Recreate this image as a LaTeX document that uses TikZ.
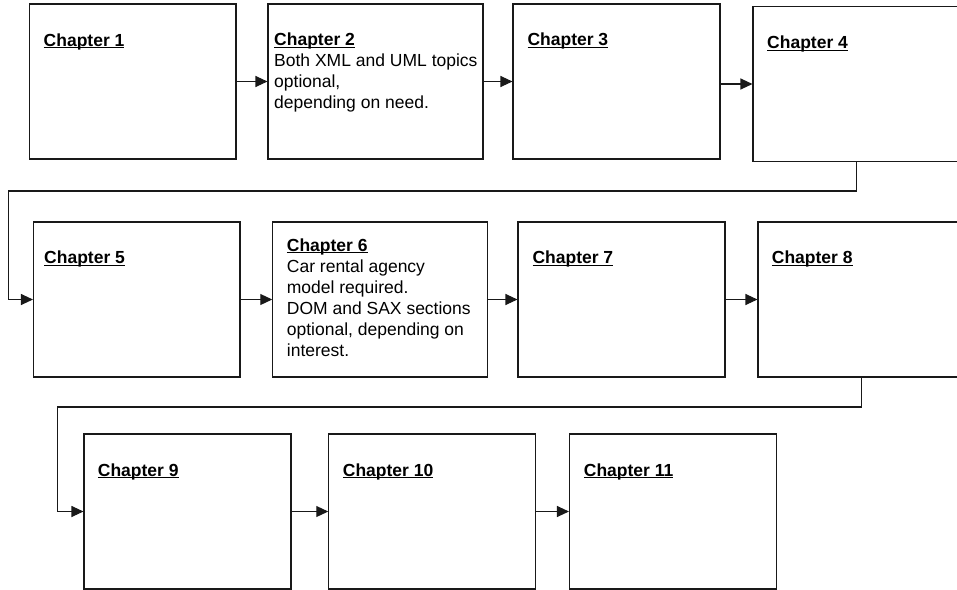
\documentclass[tikz,border=0pt]{standalone}
\usepackage{fontspec}
\setmainfont{Liberation Sans}
\usetikzlibrary{arrows.meta}

% bold title with a tight underline that cuts through the descenders
\newlength\chtitlewd
\newcommand\chtitle[1]{{\bfseries\settowidth\chtitlewd{#1}#1\llap{\rule[-2.4pt]{\chtitlewd}{1.3pt}}}}

\tikzset{
  chbox/.style={draw=black!90, line width=1.1pt, fill=white, rectangle,
    inner sep=0pt, minimum width=207pt, minimum height=155pt},
  wide/.style={minimum width=215pt},
  % multi-line texts are placed by the baseline of their last line
  chtext/.style={anchor=base west, inner sep=0pt, align=left,
    font=\fontsize{17.5}{21}\selectfont, text=black},
  flow/.style={draw=black!90, line width=1.1pt,
    -{Triangle[length=12pt,width=11pt]}},
}

\begin{document}
\begin{tikzpicture}[x=1pt,y=-1pt]
\useasboundingbox (0,0) rectangle (957,589);
\clip (0,0) rectangle (957,589);

% row 1
\node[chbox, minimum width=206.5pt] (b1) at (132.75,81.5) {};
\node[chbox, wide] (b2) at (375.5,81.5) {};
\node[chbox] (b3) at (616.5,81.5) {};
\node[chbox] (b4) at (856.5,84) {};
% row 2
\node[chbox, minimum width=206.5pt] (b5) at (136.75,299.5) {};
\node[chbox, wide] (b6) at (380.3,299.5) {};
\node[chbox] (b7) at (621.5,299.5) {};
\node[chbox] (b8) at (861.5,299.5) {};
% row 3
\node[chbox] (b9) at (187.5,511.5) {};
\node[chbox] (b10) at (432.3,511.5) {};
\node[chbox] (b11) at (673,511.5) {};

% chapter texts
\node[chtext] (t1) at (43.5,46) {\chtitle{Chapter 1}};
\node[chtext] (t2) at (274,108.5) {\chtitle{Chapter 2}\\Both XML and UML topics\\optional,\\depending on need.};
\node[chtext] (t3) at (527.3,45.7) {\chtitle{Chapter 3}};
\node[chtext] (t4) at (767,48.5) {\chtitle{Chapter 4}};
\node[chtext] (t5) at (44,263.5) {\chtitle{Chapter 5}};
\node[chtext] (t6) at (286.7,356) {\chtitle{Chapter 6}\\Car rental agency\\model required.\\DOM and SAX sections\\optional, depending on\\interest.};
\node[chtext] (t7) at (532.3,263.5) {\chtitle{Chapter 7}};
\node[chtext] (t8) at (771.7,263.5) {\chtitle{Chapter 8}};
\node[chtext] (t9) at (97.7,476) {\chtitle{Chapter 9}};
\node[chtext] (t10) at (342.7,476) {\chtitle{Chapter 10}};
\node[chtext] (t11) at (583.7,476) {\chtitle{Chapter 11}};

% turning points of the row-to-row connectors
\coordinate (r1) at (8.3,191);
\coordinate (r2) at (57.5,407);

% connectors
\draw[flow] (b1.east) -- (b2.west);
\draw[flow] (b2.east) -- (b3.west);
\draw[flow] (b3.east |- b4.west) -- (b4.west);
\draw[flow] (b4.south) |- (r1) |- (b5.west);
\draw[flow] (b5.east) -- (b6.west);
\draw[flow] (b6.east) -- (b7.west);
\draw[flow] (b7.east) -- (b8.west);
\draw[flow] (b8.south) |- (r2) |- (b9.west);
\draw[flow] (b9.east) -- (b10.west);
\draw[flow] (b10.east) -- (b11.west);
\end{tikzpicture}
\end{document}
